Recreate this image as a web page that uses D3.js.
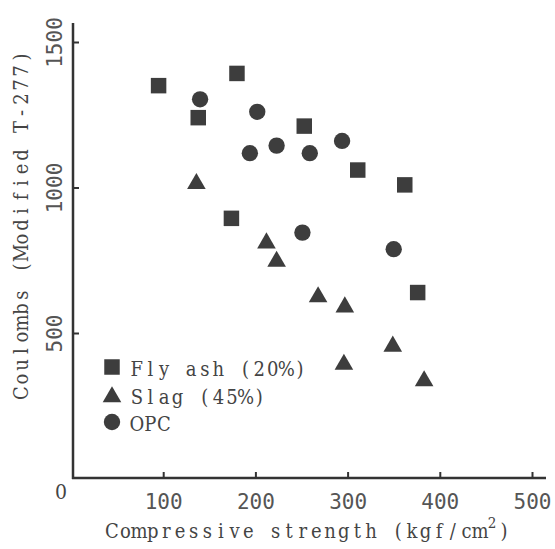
<!DOCTYPE html>
<html>
<head>
  <meta charset="utf-8">
  <script src="https://d3js.org/d3.v7.min.js"></script>
  <style>
    body { margin: 0; background: #fff; }
    .lbl { font-family: "DejaVu Serif", serif; font-stretch: condensed; fill: #444; }
    .num { font-family: "DejaVu Sans Mono", monospace; fill: #555; }
  </style>
</head>
<body>
<div id="chart"></div>
<script>

const width = 555;
const height = 549;

// compressive strength (kgf/cm2), coulombs
const flyAshX = [95, 180, 138, 253, 311, 362, 174, 376];
const flyAshY = [1350, 1392, 1240, 1211, 1060, 1009, 894, 639];
const slagX = [136, 212, 223, 268, 297, 349, 296, 383];
const slagY = [1020, 816, 753, 631, 596, 461, 399, 342];
const opcX = [140, 202, 194, 223, 259, 294, 251, 350];
const opcY = [1303, 1260, 1118, 1144, 1118, 1160, 845, 788];

const xTicks = [100, 200, 300, 400, 500];
const yTicks = [500, 1000, 1500];
const legendNames = ["Fly ash (20%)", "Slag (45%)", "OPC"];

const x = d3.scaleLinear().domain([0, 500]).range([71, 532]);
const y = d3.scaleLinear().domain([0, 1500]).range([478.5, 42]);

const svg = d3.select("#chart").append("svg")
    .attr("width", width)
    .attr("height", height);

const ink = "#333";

// typewriter look: one glyph per fixed-width cell
function typeText(parent, str, x0, y0, step, size) {
  const t = parent.append("text").attr("class", "lbl").attr("font-size", size).attr("y", y0);
  t.selectAll("tspan")
    .data(str.split(""))
    .join("tspan")
    .attr("x", (c, i) => x0 + i * step + step / 2)
    .attr("text-anchor", "middle")
    .text(c => c);
  return t;
}

// axes lines
svg.append("line").attr("x1", 72).attr("x2", 546).attr("y1", 478).attr("y2", 478)
  .attr("stroke", ink).attr("stroke-width", 2.5);
svg.append("line").attr("x1", 73).attr("x2", 73).attr("y1", 23).attr("y2", 479)
  .attr("stroke", ink).attr("stroke-width", 2.5);

// x ticks
const gx = svg.append("g").attr("transform", "translate(0,478)")
  .call(d3.axisBottom(x).tickValues(xTicks).tickSize(-6).tickPadding(16).tickFormat(d3.format("d")));
gx.select(".domain").remove();
gx.selectAll(".tick line").attr("stroke", ink).attr("stroke-width", 2);
gx.selectAll(".tick text").attr("class", "num").attr("font-size", 21).attr("fill", "#555");

// y ticks
const gy = svg.append("g").attr("transform", "translate(73,0)")
  .call(d3.axisRight(y).tickValues(yTicks).tickSize(6).tickFormat(d3.format("d")));
gy.select(".domain").remove();
gy.selectAll(".tick line").attr("stroke", ink).attr("stroke-width", 2);
gy.selectAll(".tick text")
  .attr("class", "num").attr("font-size", 21).attr("fill", "#555")
  .attr("x", 0).attr("dy", 0)
  .attr("text-anchor", "middle")
  .attr("transform", "translate(-11,0) rotate(-90)");

// origin label
svg.append("text").attr("class", "lbl").attr("x", 61).attr("y", 499)
  .attr("text-anchor", "middle").attr("font-size", 21).text("0");

// axis titles
typeText(svg, "Compressive strength (kgf/cm", 105, 538, 13.64, 20);
svg.append("text").attr("class", "lbl")
  .attr("x", 492).attr("y", 528).attr("text-anchor", "middle").attr("font-size", 15).text("2");
svg.append("text").attr("class", "lbl")
  .attr("x", 504).attr("y", 538).attr("text-anchor", "middle").attr("font-size", 20).text(")");

const yt = svg.append("g").attr("transform", "translate(28,400) rotate(-90)");
typeText(yt, "Coulombs (Modified T-277)", 0, 0, 14, 20);

// markers
const mark = "#3d3d3d";
const sq = d3.symbol().type(d3.symbolSquare).size(240);
const tri = d3.symbol().type(d3.symbolTriangle).size(150);
const cir = d3.symbol().type(d3.symbolCircle).size(210);

const series = [
  { xs: flyAshX, ys: flyAshY, sym: sq, off: 0 },
  { xs: slagX, ys: slagY, sym: tri, off: 2 },
  { xs: opcX, ys: opcY, sym: cir, off: 0 }
];

series.forEach(s => {
  svg.append("g").selectAll("path")
    .data(s.xs.map((v, i) => [v, s.ys[i]]))
    .join("path")
    .attr("d", s.sym)
    .attr("fill", mark)
    .attr("transform", d => `translate(${x(d[0])},${y(d[1]) + s.off})`);
});

// legend
const leg = svg.append("g");
const legY = [367, 395, 422];
legendNames.forEach((name, i) => {
  leg.append("path").attr("d", series[i].sym)
    .attr("fill", mark)
    .attr("transform", `translate(112,${legY[i] + series[i].off})`);
  typeText(leg, name, 130, legY[i] + 9, 13.6, 20);
});

</script>
</body>
</html>
